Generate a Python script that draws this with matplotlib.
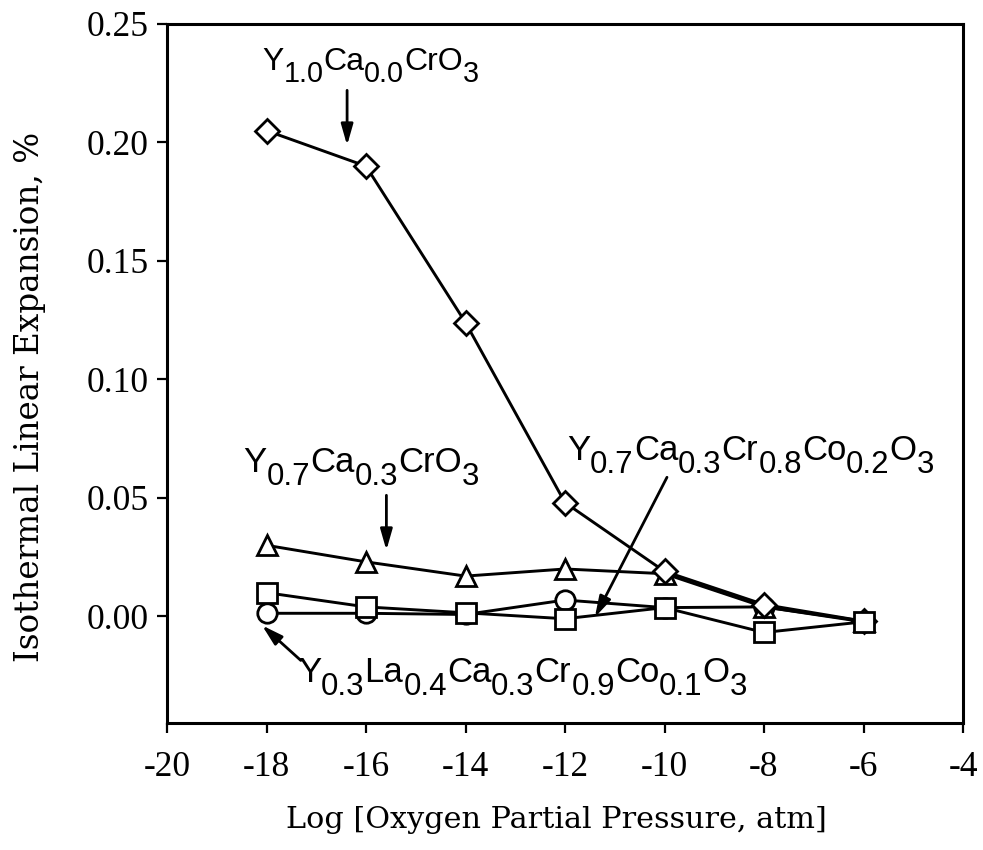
import re
import matplotlib
matplotlib.use("Agg")
import matplotlib.pyplot as plt
from matplotlib import transforms

plt.rcParams['axes.unicode_minus'] = False

# data
log_po2 = [-18, -16, -14, -12, -10, -8, -6]
y10_ca00 = [0.205, 0.190, 0.124, 0.048, 0.019, 0.005, -0.002]      # diamonds
y07_ca03 = [0.030, 0.023, 0.017, 0.020, 0.018, 0.004, -0.002]      # triangles
y07_ca03_co02 = [0.010, 0.004, 0.0015, -0.001, 0.0037, -0.0068, -0.0023]  # squares
y03_la04_co01 = [0.0013, 0.0013, 0.0008, 0.0069, 0.0037, 0.004, -0.0023]  # circles

xticks = [-20, -18, -16, -14, -12, -10, -8, -6, -4]
yticks = [0.00, 0.05, 0.10, 0.15, 0.20, 0.25]

lbl_a = "Y_{1.0}Ca_{0.0}CrO_{3}"
lbl_b = "Y_{0.7}Ca_{0.3}CrO_{3}"
lbl_c = "Y_{0.7}Ca_{0.3}Cr_{0.8}Co_{0.2}O_{3}"
lbl_d = "Y_{0.3}La_{0.4}Ca_{0.3}Cr_{0.9}Co_{0.1}O_{3}"

fig = plt.figure(figsize=(9.83, 8.5), dpi=100)
ax = fig.add_axes([167/983, 1 - 723/850, 796/983, 699/850])

mk = dict(color='black', lw=2.1, mfc='white', mec='black', mew=2.0)
ax.plot(log_po2, y03_la04_co01, marker='o', ms=14, **mk)
ax.plot(log_po2, y07_ca03, marker='^', ms=14, **mk)
ax.plot(log_po2, y10_ca00, marker='D', ms=12.5, **mk)
ax.plot(log_po2, y07_ca03_co02, marker='s', ms=14, **mk)

ax.set_xlim(-20, -4)
ax.set_ylim(-0.045, 0.25)
ax.set_xticks(xticks)
ax.set_yticks(yticks)
ax.set_yticklabels(["%.2f" % v for v in yticks])
ax.tick_params(direction='out', length=7, width=1.6, labelsize=25.5, pad=6)
ax.tick_params(axis='x', pad=13)
for lab in ax.get_xticklabels() + ax.get_yticklabels():
    lab.set_family('Liberation Serif')
for sp in ax.spines.values():
    sp.set_linewidth(2.2)

fig.text(556/983, 1 - 828/850, "Log [Oxygen Partial Pressure, atm]",
         family='DejaVu Serif', fontsize=21.8, ha='center', va='baseline')
fig.text(30/983, 1 - 397/850, "Isothermal Linear Expansion, %",
         family='DejaVu Serif', fontsize=23.5, ha='center', va='center', rotation=90)

renderer = fig.canvas.get_renderer()


def formula(x, y, s, size):
    # chemical formula with big lowered subscripts
    dx = 0.0
    for part in re.findall(r"_\{[^}]*\}|[^_]+", s):
        sub = part.startswith("_")
        txt = part[2:-1] if sub else part
        fs = size * 0.9 if sub else size
        tr = transforms.offset_copy(ax.transData, fig=fig, x=dx,
                                    y=-0.37 * size if sub else 0, units='points')
        t = ax.text(x, y, txt, transform=tr, fontsize=fs, family='Liberation Sans',
                    ha='left', va='baseline')
        dx += t.get_window_extent(renderer).width * 72.0 / fig.dpi


formula(-18.09, 0.2306, lbl_a, 23)
formula(-18.47, 0.0609, lbl_b, 25)
formula(-11.96, 0.0660, lbl_c, 25)
formula(-17.37, -0.0277, lbl_d, 25)

arr = dict(arrowstyle='-|>,head_length=0.7,head_width=0.2', mutation_scale=18,
           color='black', lw=2.0, shrinkA=0, shrinkB=0)
ax.annotate("", xy=(-16.38, 0.1988), xytext=(-16.38, 0.222), arrowprops=arr)
ax.annotate("", xy=(-15.59, 0.0279), xytext=(-15.59, 0.0511), arrowprops=arr)
ax.annotate("", xy=(-11.40, -0.0004), xytext=(-9.95, 0.0587), arrowprops=arr)
ax.annotate("", xy=(-18.09, -0.0038), xytext=(-17.31, -0.0186), arrowprops=arr)

fig.savefig("out.png", dpi=100)
